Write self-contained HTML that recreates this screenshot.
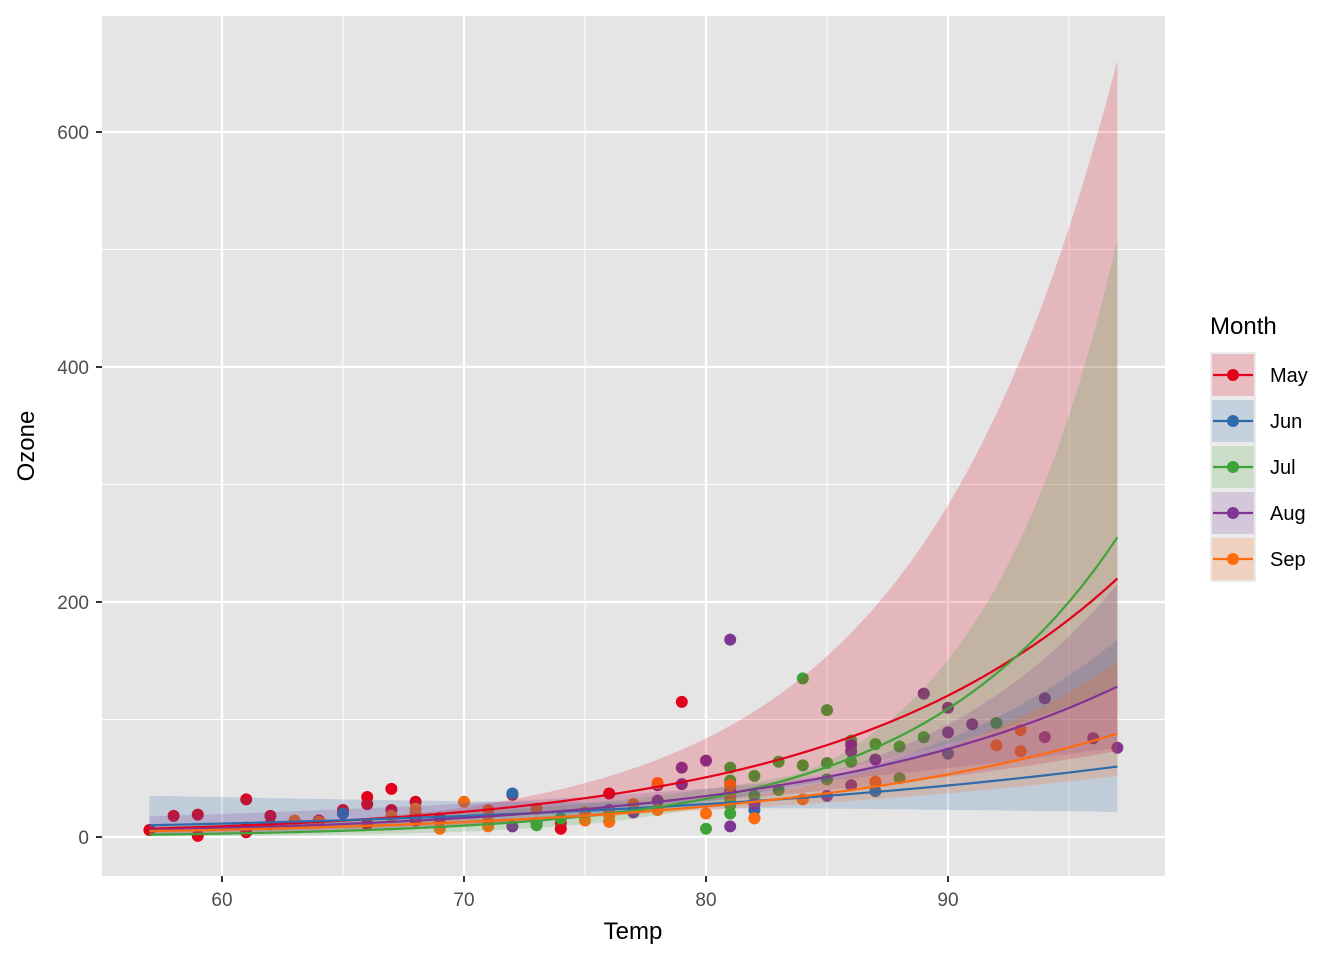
<!DOCTYPE html>
<html><head><meta charset="utf-8"><style>
body{margin:0;background:#fff;}
svg text{font-family:"Liberation Sans",Arial,sans-serif;}
</style></head><body>
<svg id="chart" width="1344" height="960" xmlns="http://www.w3.org/2000/svg">
<rect x="102" y="16" width="1063" height="860" fill="#E5E5E5"/>
<g id="grid"></g>
<g id="points"></g>
<g id="ribbons"></g>
<g id="lines"></g>
<g id="axes"></g>
<text x="633" y="939" font-size="24" text-anchor="middle" fill="#000">Temp</text>
<text transform="translate(34,446) rotate(-90)" font-size="24" text-anchor="middle" fill="#000">Ozone</text>
<g id="legend">
<text x="1210" y="334" font-size="24" fill="#000">Month</text>
</g>
</svg>
<script>
const months=["May","Jun","Jul","Aug","Sep"];
const colors=["#E3001B","#2F6BAA","#3FA33A","#7F3594","#FF6B0F"];
const xTicks=[60,70,80,90];
const yTicks=[0,200,400,600];
const mayPts=[[67,41],[72,36],[74,12],[62,18],[66,28],[65,23],[59,19],[61,8],[74,7],[69,16],[66,11],[68,14],[58,18],[64,14],[66,34],[57,6],[68,30],[62,11],[59,1],[73,11],[61,4],[61,32],[67,23],[81,45],[79,115],[76,37]];
const junPts=[[82,29],[90,71],[87,39],[82,23],[77,21],[72,37],[65,20],[73,12],[76,13]];
const julPts=[[84,135],[85,49],[81,32],[83,64],[83,40],[88,77],[92,97],[92,97],[89,85],[73,10],[81,27],[80,7],[81,48],[82,35],[84,61],[87,79],[85,63],[74,16],[86,80],[85,108],[81,20],[82,52],[86,82],[88,50],[86,64],[81,59]];
const augPts=[[81,39],[81,9],[82,16],[86,78],[85,35],[87,66],[89,122],[90,89],[90,110],[86,44],[82,28],[80,65],[77,22],[79,59],[76,23],[78,31],[78,44],[77,21],[72,9],[79,45],[81,168],[86,73],[97,76],[94,118],[96,84],[94,85],[91,96]];
const sepPts=[[92,78],[93,73],[93,91],[87,47],[84,32],[80,20],[78,23],[75,21],[73,24],[81,44],[76,21],[77,28],[71,9],[71,13],[78,46],[67,18],[76,13],[68,24],[82,16],[64,13],[71,23],[81,36],[69,7],[63,14],[70,30],[75,14],[76,18],[68,20]];
const allPts=[mayPts,junPts,julPts,augPts,sepPts];
const fitStart=[7,10,2,6,5];
const fitEnd=[220,60,255,128,88];
const ciCentre=[0.08,0.15,0.05,0.06,0.08];
const ciEnd=[1.1,1.03,0.69,0.52,0.53];
const tCentre=[66,79,84,84,76];
const tMin=57,tMax=97;

const X=t=>222+(t-60)*24.2;
const Y=v=>837-v*1.175;
const NS="http://www.w3.org/2000/svg";
function mk(tag,attrs,parent){const e=document.createElementNS(NS,tag);for(const k in attrs)e.setAttribute(k,attrs[k]);parent.appendChild(e);return e;}
const grid=document.getElementById('grid');
[65,75,85,95].forEach(t=>{const l=mk('line',{x1:X(t),x2:X(t),y1:16,y2:876,stroke:'#fff','stroke-width':1},grid);

});
[100,300,500].forEach(v=>{const l=mk('line',{y1:Y(v),y2:Y(v),x1:102,x2:1165,stroke:'#fff','stroke-width':1},grid);

});
const axes=document.getElementById('axes');
xTicks.forEach(t=>{const l=mk('line',{x1:X(t),x2:X(t),y1:16,y2:876,stroke:'#fff','stroke-width':2.2},grid);


const tk=mk('line',{x1:X(t),x2:X(t),y1:876,y2:882,stroke:'#333','stroke-width':2},axes);


const tx=mk('text',{x:X(t),y:906,'font-size':19,'text-anchor':'middle',fill:'#4d4d4d'},axes);tx.textContent=t;

});
yTicks.forEach(v=>{const l=mk('line',{y1:Y(v),y2:Y(v),x1:102,x2:1165,stroke:'#fff','stroke-width':2.2},grid);


const tk=mk('line',{y1:Y(v),y2:Y(v),x1:96,x2:102,stroke:'#333','stroke-width':2},axes);


const tx=mk('text',{x:89,y:Y(v)+7,'font-size':19,'text-anchor':'end',fill:'#4d4d4d'},axes);tx.textContent=v;

});
const pg=document.getElementById('points');
allPts.forEach((pts,i)=>pts.forEach(p=>{const c=mk('circle',{cx:X(p[0]),cy:Y(p[1]),r:6,fill:colors[i]},pg);

}));
const rg=document.getElementById('ribbons'),lg=document.getElementById('lines');
months.forEach((m,i)=>{
 const b=Math.log(fitEnd[i]/fitStart[i])/(tMax-tMin);
 const a=Math.log(fitStart[i]);
 const k=Math.sqrt(Math.max(ciEnd[i]**2-ciCentre[i]**2,0))/(tMax-tCentre[i]);
 let up=[],lo=[],ln=[];
 for(let t=tMin;t<=tMax+1e-9;t+=0.5){
  const eta=a+b*(t-tMin);const se=Math.sqrt(ciCentre[i]**2+k*k*(t-tCentre[i])**2);
  ln.push(X(t)+','+Y(Math.exp(eta)));up.push(X(t)+','+Y(Math.exp(eta+se)));lo.unshift(X(t)+','+Y(Math.exp(eta-se)));
 }
 const r=mk('polygon',{points:up.concat(lo).join(' '),fill:colors[i],'fill-opacity':0.2},rg);
 
 
 const l=mk('polyline',{points:ln.join(' '),fill:'none',stroke:colors[i],'stroke-width':2.2},lg);
 
 
 const leg=document.getElementById('legend');
 const y0=352+i*46;
 const g=mk('g',{},leg);
 
 
 mk('rect',{x:1210,y:y0,width:46,height:46,fill:'#EBEBEB'},g);
 mk('rect',{x:1212,y:y0+2,width:42,height:42,fill:colors[i],'fill-opacity':0.2},g);
 mk('line',{x1:1213,x2:1253,y1:y0+23,y2:y0+23,stroke:colors[i],'stroke-width':2.2},g);
 mk('circle',{cx:1233,cy:y0+23,r:6,fill:colors[i]},g);
 const t=mk('text',{x:1270,y:y0+30,'font-size':20,fill:'#000'},g);t.textContent=m;
});
</script>
</body></html>
